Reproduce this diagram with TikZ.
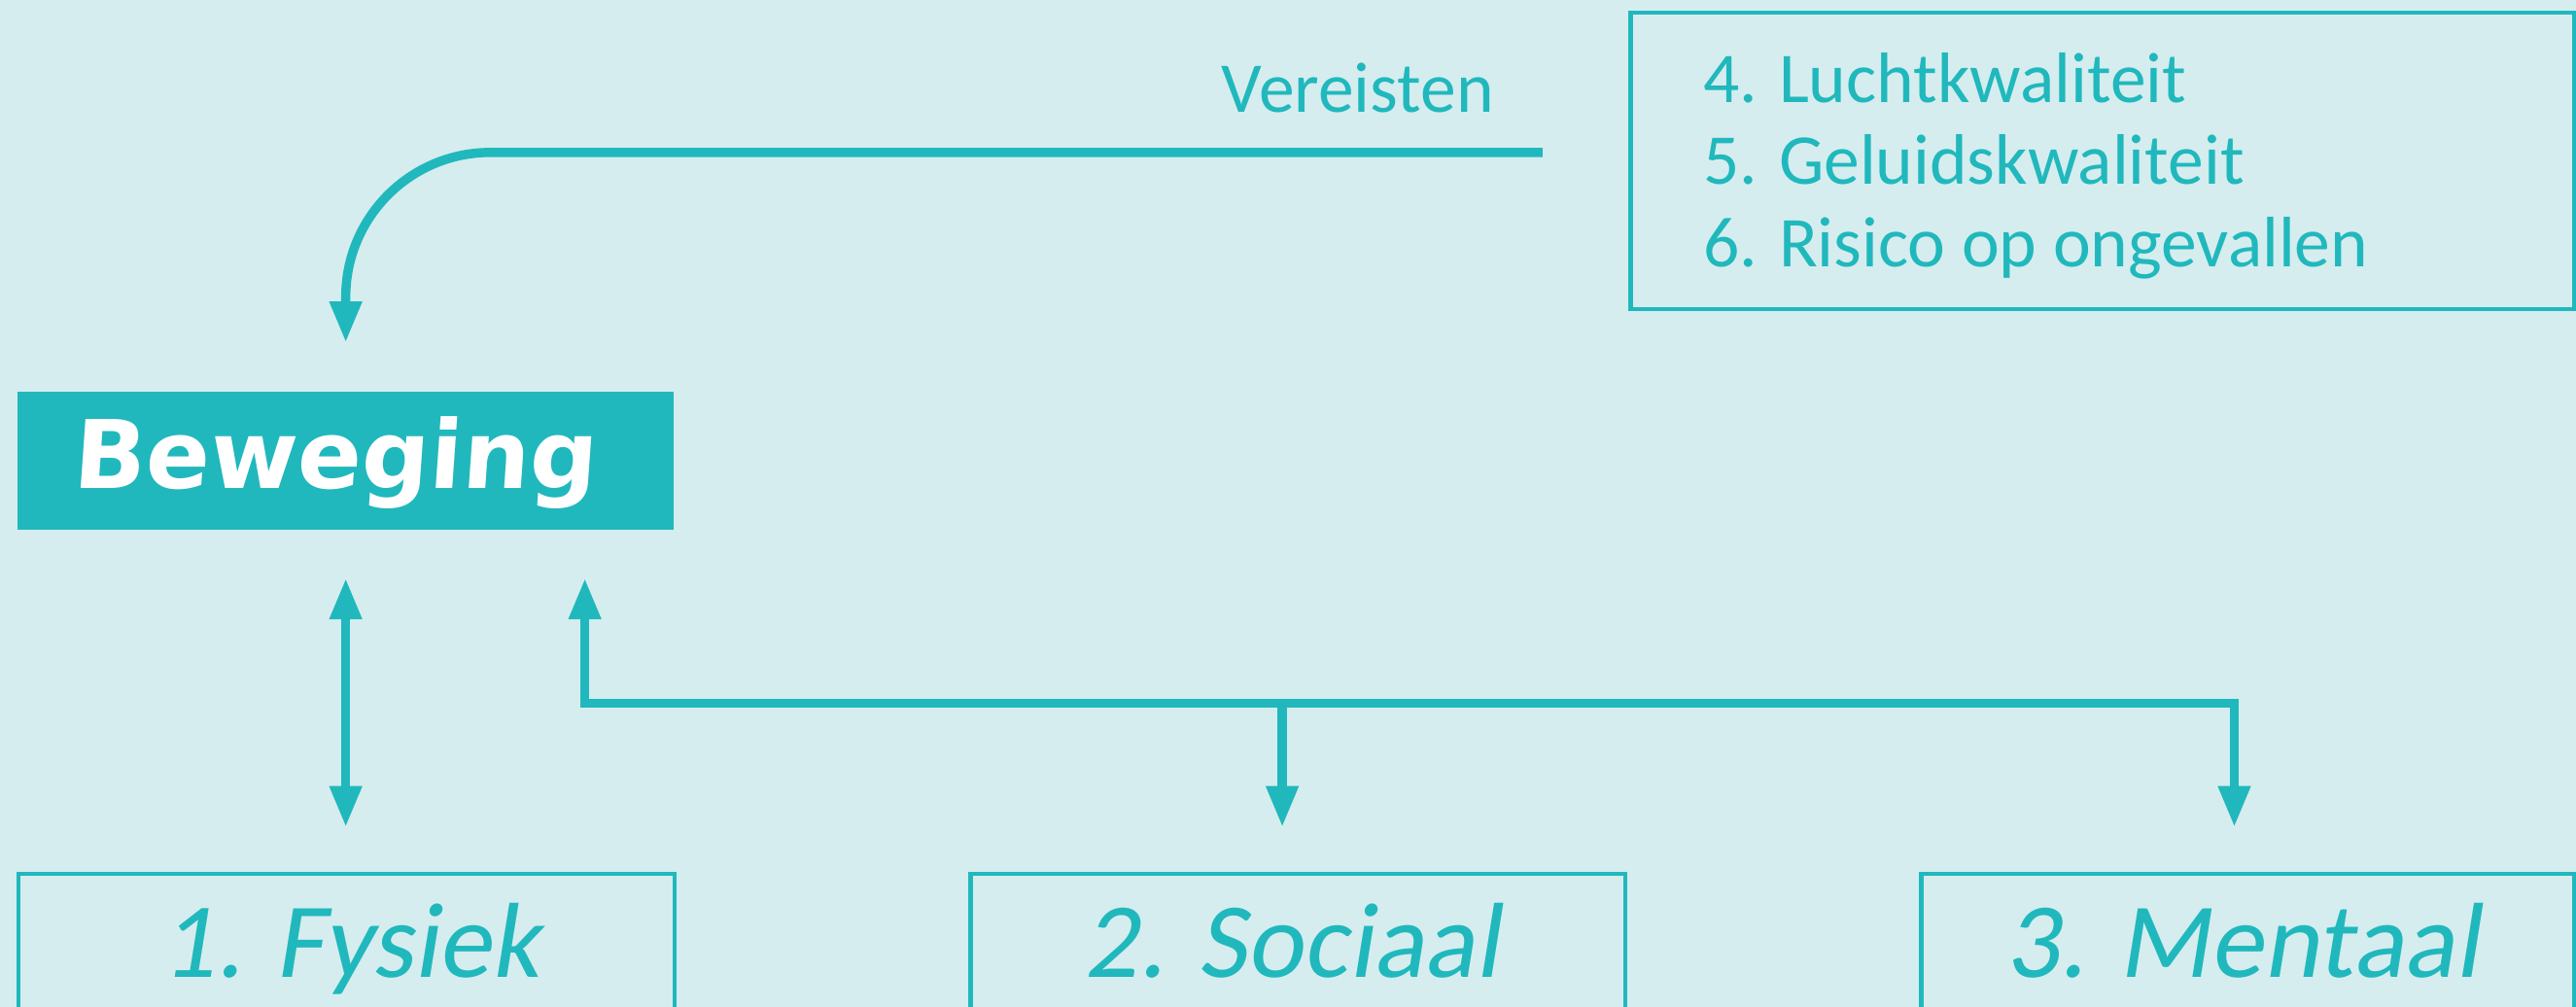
\documentclass[tikz,border=0pt]{standalone}
\usepackage{fontspec}
\setmainfont{Carlito}
\newfontfamily\labfont[FakeSlant=0.16]{Carlito}
\newfontfamily\bewfont[FakeSlant=0.07]{DejaVu Sans}
\usetikzlibrary{arrows.meta}
\definecolor{bgc}{RGB}{213,237,238}
\definecolor{tealc}{RGB}{32,184,189}
\begin{document}
\begin{tikzpicture}[x=1bp,y=-1bp,
  ah/.tip={Triangle[length=25bp,width=18.5bp]},
  conn/.style={draw=tealc, line width=5.6bp, line join=miter},
  frame/.style={rectangle, draw=tealc, line width=2.8bp, inner sep=0pt, outer sep=0pt},
  bigbox/.style={rectangle, fill=tealc, inner sep=0pt, outer sep=0pt},
  lab/.style={anchor=base, inner sep=0pt, text=tealc, font=\labfont\fontsize{65bp}{70bp}\selectfont},
  small/.style={inner sep=0pt, text=tealc, font=\fontsize{43.5bp}{50bp}\selectfont},
  bewtext/.style={anchor=base, inner sep=0pt, text=white, font=\bewfont\bfseries\fontsize{57.6bp}{60bp}\selectfont}
]
\useasboundingbox (0,0) rectangle (1568,613);
\fill[bgc] (0,0) rectangle (1568,613);

% boxes
\node[frame, minimum width=574.8bp, minimum height=180.5bp] (req) at (1279.9,97.95) {};
\node[bigbox, minimum width=399.1bp, minimum height=84bp] (bew) at (210.45,280.5) {};
\node[frame, minimum width=399.4bp, minimum height=188bp] (fys) at (211,626) {};
\node[frame, minimum width=398.6bp, minimum height=188bp] (soc) at (790,626) {};
\node[frame, minimum width=397.8bp, minimum height=188bp] (men) at (1368.4,626) {};

% texts
\node[bewtext] (bewt) at (203.5,297.4) {Beweging};
\node[lab] (fyst) at (213.6,595) {1. Fysiek};
\node[lab] (soct) at (786.6,595) {2. Sociaal};
\node[lab] (ment) at (1365,595) {3. Mentaal};
\node[small, anchor=base west] (r4) at (1036.5,62.7) {4. Luchtkwaliteit};
\node[small, anchor=base west] (r5) at (1036.5,112.4) {5. Geluidskwaliteit};
\node[small, anchor=base west] (r6) at (1036.5,162.7) {6. Risico op ongevallen};
\node[small, anchor=base] (ver) at (826.5,68.6) {Vereisten};

% connectors
\coordinate (vr) at (939,92.8);
\coordinate (j1) at (356,428);
\coordinate (j2) at (780.5,428);
\coordinate (j3) at (1360,428);
\draw[conn, -ah, rounded corners=88bp, shorten >=30bp] (vr) -| (bew.north);
\draw[conn, ah-ah, shorten <=29.5bp, shorten >=28.5bp] (bew.south) -- (fys.north -| bew.south);
\draw[conn, ah-ah, shorten <=29.5bp, shorten >=28.5bp] (bew.south -| j1) -- (j1) -- (j3) -- (men.north -| j3);
\draw[conn, -ah, shorten >=28.5bp] (j2) -- (soc.north -| j2);
\end{tikzpicture}
\end{document}
